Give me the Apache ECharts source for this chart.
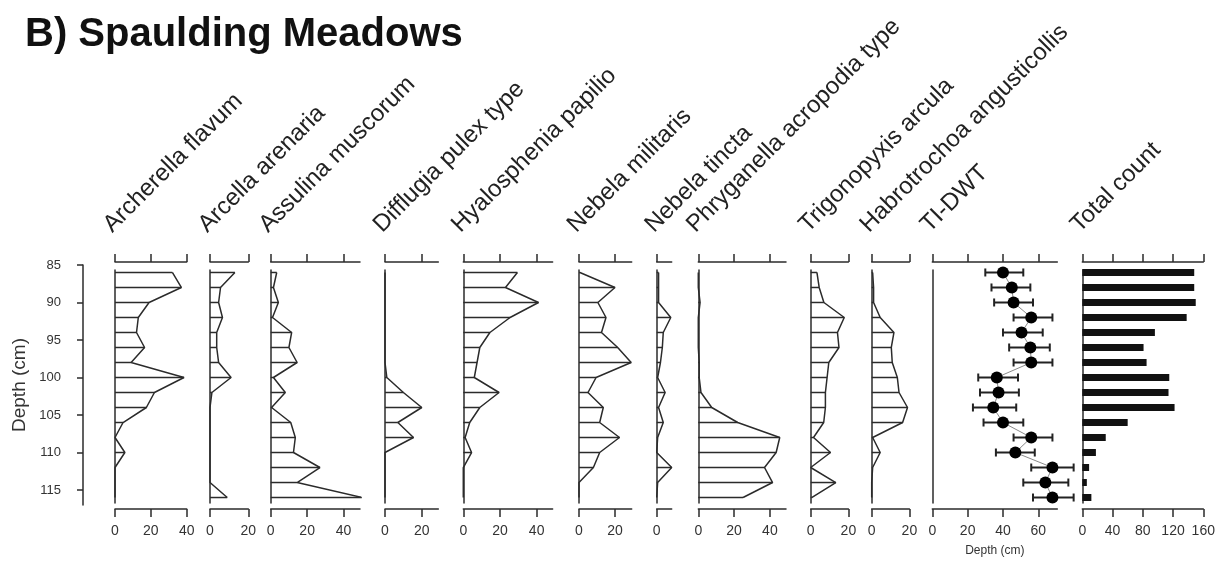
<!DOCTYPE html>
<html>
<head>
<meta charset="utf-8">
<script src="https://cdn.jsdelivr.net/npm/echarts@6/dist/echarts.min.js"></script>
<style>
html,body{margin:0;padding:0;background:#fff}
#chart{width:1220px;height:569px}
</style>
</head>
<body>
<div id="chart"></div>
<script>
// sample depths (cm)
var depths = [86, 88, 90, 92, 94, 96, 98, 100, 102, 104, 106, 108, 110, 112, 114, 116];
var depthTicks = [85, 90, 95, 100, 105, 110, 115];

// testate amoebae percentages
var archerella   = [32, 37, 19, 13, 12, 16.5, 9, 38.5, 22, 17.5, 4.5, 0, 5.5, 0, 0, 0];
var arcella      = [13, 5.5, 4.5, 6.5, 3.5, 3.5, 4.5, 11, 1, 0, 0, 0, 0, 0, 0, 9];
var assulina     = [3.3, 1.5, 4.2, 1, 11.5, 10, 14.5, 1.5, 8, 0.5, 11, 13.5, 12.5, 27, 14.5, 50];
var difflugia    = [0, 0, 0, 0, 0, 0, 0, 1, 10, 20, 7, 15.5, 0, 0, 0, 0];
var hyalosphenia = [29.5, 23, 41, 25.5, 14.5, 9, 7.5, 6, 19.5, 9, 3.5, 1, 4.5, 0, 0, 0];
var militaris    = [0.5, 20, 10.5, 15, 12.5, 21.5, 29, 9.5, 5, 13.5, 11.5, 22.5, 11.5, 8, 0, 0];
var tincta       = [1, 1, 1, 7.5, 3.5, 3, 2, 0.5, 4.5, 1, 3.5, 0.5, 0, 8, 0.5, 0];
var phryganella  = [0, 0, 1, 0, 0, 0, 0.5, 0.5, 1.5, 7.5, 22, 45.5, 43.5, 37, 41.5, 25];
var trigonopyxis = [3.3, 4.5, 7, 17.8, 14.2, 15, 9.6, 8.7, 7.8, 7.8, 6.9, 1.5, 10.5, 0, 13.3, 0.5];
var habrotrochoa = [0.5, 1, 1, 4.5, 11.8, 10.4, 10.9, 13.6, 14.5, 19, 16.4, 0.5, 4.5, 0.5, 0, 0];

// transfer function water table depth, with error bars
var tiDwt     = [40, 45, 46, 56, 50.5, 55.5, 56, 36.5, 37.5, 34.5, 40, 56, 47, 68, 64, 68];
var tiDwtLow  = [30, 33.5, 35, 46, 40, 43.5, 46, 26, 27, 23, 29, 46, 36, 56, 51.5, 57];
var tiDwtHigh = [51.5, 55.5, 57, 68, 62.5, 66.5, 68, 48.5, 49, 47.5, 51.5, 68, 58, 80, 77, 80];

// total count per sample
var totalCount = [148, 148, 150, 138, 96, 81, 85, 115, 114, 122, 60, 31, 18, 9, 6, 12];

var panelNames = ['Archerella flavum', 'Arcella arenaria', 'Assulina muscorum', 'Difflugia pulex type',
  'Hyalosphenia papilio', 'Nebela militaris', 'Nebela tincta', 'Phryganella acropodia type',
  'Trigonopyxis arcula', 'Habrotrochoa angusticollis', 'TI-DWT', 'Total count'];
var panelValues = [archerella, arcella, assulina, difflugia, hyalosphenia, militaris, tincta,
  phryganella, trigonopyxis, habrotrochoa, tiDwt, totalCount];
var panelMax = [40, 20, 49, 29, 48.7, 29.3, 8, 49, 20, 20, 70.75, 160];
var panelTicks = [[0, 20, 40], [0, 20], [0, 20, 40], [0, 20], [0, 20, 40], [0, 20], [0],
  [0, 20, 40], [0, 20], [0, 20], [0, 20, 40, 60], [0, 40, 80, 120, 160]];

// layout: [left, width] of each panel in px
var panelLayout = [[115, 71.7], [210, 38.3], [270.7, 89.3], [385, 53.3], [463.3, 89.3], [579, 52.7],
  [656.7, 15], [698.3, 87.7], [810.7, 37.7], [871.7, 37.7], [932.3, 125], [1082.3, 121]];

var FONT = 'Liberation Sans, Arial, sans-serif';
var INK = '#2b2b2b';

//横线（每个样品一条）
function hatchItem(params, api) {
  var p0 = api.coord([0, api.value(1)]);
  var p1 = api.coord([api.value(0), api.value(1)]);
  return {type: 'line', shape: {x1: p0[0], y1: p0[1], x2: p1[0], y2: p1[1]},
    style: {stroke: INK, lineWidth: 1.5}};
}
//误差线
function errorItem(params, api) {
  var a = api.coord([api.value(0), api.value(2)]);
  var b = api.coord([api.value(1), api.value(2)]);
  var st = {stroke: '#222', lineWidth: 2};
  return {type: 'group', children: [
    {type: 'line', shape: {x1: a[0], y1: a[1], x2: b[0], y2: b[1]}, style: st},
    {type: 'line', shape: {x1: a[0], y1: a[1] - 4, x2: a[0], y2: a[1] + 4}, style: st},
    {type: 'line', shape: {x1: b[0], y1: b[1] - 4, x2: b[0], y2: b[1] + 4}, style: st}
  ]};
}
//柱子
function barItem(params, api) {
  var p0 = api.coord([0, api.value(1)]);
  var p1 = api.coord([api.value(0), api.value(1)]);
  return {type: 'rect', shape: {x: p0[0], y: p0[1] - 3.5, width: p1[0] - p0[0], height: 7},
    style: {fill: '#111'}};
}

var grids = [{left: 83, top: 265, width: 10, height: 240, outerBoundsMode: 'none'}];
var xAxes = [{gridIndex: 0, type: 'value', show: false}];
var yAxes = [{
  gridIndex: 0, type: 'value', inverse: true, min: 85, max: 117,
  axisLine: {show: true, onZero: false, lineStyle: {color: INK, width: 1.5}},
  axisTick: {show: true, length: 6, customValues: depthTicks, lineStyle: {color: INK, width: 1.5}},
  axisLabel: {customValues: depthTicks, fontSize: 13, color: '#333', fontFamily: FONT, margin: 22},
  splitLine: {show: false},
  name: 'Depth (cm)', nameLocation: 'middle', nameRotate: 90, nameGap: 54,
  nameTextStyle: {fontSize: 19, color: '#333', fontFamily: FONT}
}];
var series = [];
var graphics = [];

panelNames.forEach(function (name, i) {
  var gi = i + 1;
  grids.push({left: panelLayout[i][0], width: panelLayout[i][1], top: 270, height: 233, outerBoundsMode: 'none'});
  var axisBase = {
    gridIndex: gi, type: 'value', min: 0, max: panelMax[i],
    axisLine: {show: true, onZero: false, lineStyle: {color: INK, width: 1.5}},
    axisTick: {show: true, length: 8, customValues: panelTicks[i], lineStyle: {color: INK, width: 1.5}},
    splitLine: {show: false}
  };
  xAxes.push(Object.assign({}, axisBase, {
    position: 'bottom', offset: 6,
    axisLabel: {customValues: panelTicks[i], fontSize: 14, color: '#333', fontFamily: FONT, margin: 15},
    name: name === 'TI-DWT' ? 'Depth (cm)' : '', nameLocation: 'middle', nameGap: 36,
    nameTextStyle: {fontSize: 12, color: '#333', fontFamily: FONT}
  }));
  xAxes.push(Object.assign({}, axisBase, {position: 'top', offset: 8, axisLabel: {show: false}}));
  yAxes.push({
    gridIndex: gi, type: 'value', inverse: true, min: 85.67, max: 116.73,
    axisLine: {show: true, onZero: false, lineStyle: {color: INK, width: 1.5}},
    axisTick: {show: false}, axisLabel: {show: false}, splitLine: {show: false}
  });
  var xi = 2 * i + 1;
  var data = depths.map(function (d, k) { return [panelValues[i][k], d]; });
  if (name === 'TI-DWT') {
    series.push({type: 'line', xAxisIndex: xi, yAxisIndex: gi, data: data, symbol: 'none', clip: false,
      lineStyle: {color: '#8a8a8a', width: 1}, silent: true, z: 1});
    series.push({type: 'custom', xAxisIndex: xi, yAxisIndex: gi, renderItem: errorItem, clip: false,
      data: depths.map(function (d, k) { return [tiDwtLow[k], tiDwtHigh[k], d]; }),
      encode: {x: [0, 1], y: 2}, silent: true, z: 2});
    series.push({type: 'scatter', xAxisIndex: xi, yAxisIndex: gi, data: data, symbol: 'circle',
      symbolSize: 12, itemStyle: {color: '#000', opacity: 1}, clip: false, silent: true, z: 3});
  } else if (name === 'Total count') {
    series.push({type: 'custom', xAxisIndex: xi, yAxisIndex: gi, renderItem: barItem, data: data,
      encode: {x: 0, y: 1}, silent: true});
  } else {
    series.push({type: 'custom', xAxisIndex: xi, yAxisIndex: gi, renderItem: hatchItem, data: data,
      encode: {x: 0, y: 1}, silent: true});
    series.push({type: 'line', xAxisIndex: xi, yAxisIndex: gi, data: data, symbol: 'none', clip: false,
      lineStyle: {color: INK, width: 1.5}, silent: true});
  }
  graphics.push({
    type: 'text', x: panelLayout[i][0] + 1, y: 237, rotation: Math.PI / 4,
    style: {text: name, fill: '#222', fontSize: 24, fontFamily: FONT,
      align: 'left', verticalAlign: 'bottom', textAlign: 'left', textVerticalAlign: 'bottom'}
  });
});

var chart = echarts.init(document.getElementById('chart'), null, {renderer: 'canvas'});
chart.setOption({
  animation: false,
  backgroundColor: '#fff',
  title: {
    text: 'B) Spaulding Meadows', left: 25, top: 15, padding: 0,
    textStyle: {fontSize: 40, fontWeight: 'bold', fontFamily: FONT, color: '#111'}
  },
  grid: grids,
  xAxis: xAxes,
  yAxis: yAxes,
  graphic: graphics,
  series: series
});
</script>
</body>
</html>
